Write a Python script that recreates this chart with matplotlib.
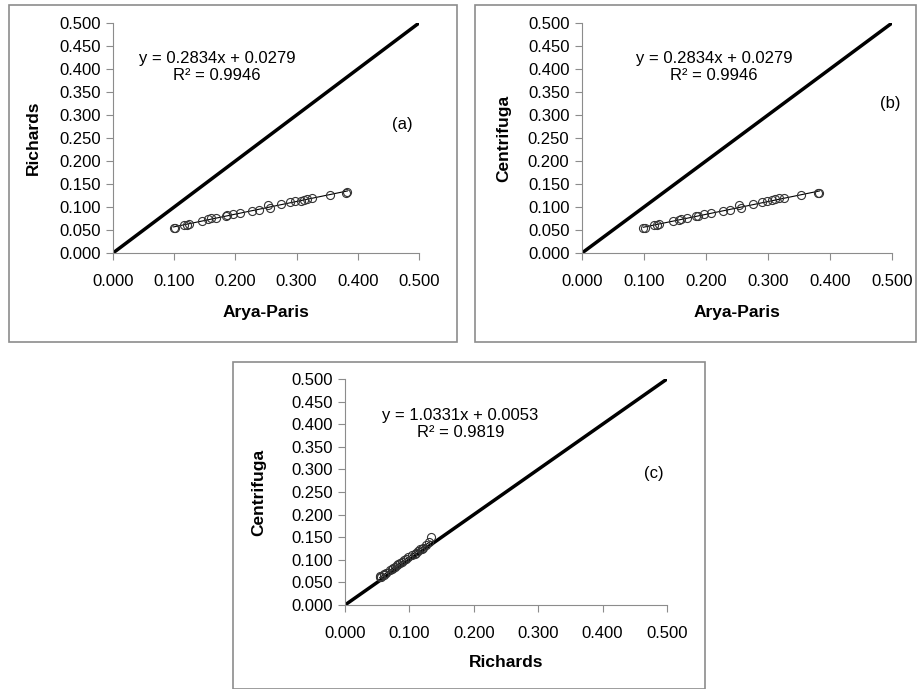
import numpy as np
import matplotlib
matplotlib.use('Agg')
import matplotlib.pyplot as plt
from matplotlib.patches import Rectangle

plt.rcParams['font.family'] = ['Liberation Sans', 'DejaVu Sans']

# Arya-Paris vs Richards (panel a) and vs Centrifuga (panel b)
arya_paris = [0.099, 0.102, 0.116, 0.121, 0.124, 0.146, 0.156, 0.160, 0.169,
              0.184, 0.187, 0.196, 0.208, 0.227, 0.239, 0.254, 0.256, 0.275,
              0.290, 0.298, 0.307, 0.312, 0.317, 0.325, 0.354, 0.381, 0.383]
richards = [0.055, 0.055, 0.061, 0.061, 0.063, 0.070, 0.073, 0.075, 0.076,
            0.081, 0.082, 0.085, 0.087, 0.092, 0.093, 0.105, 0.098, 0.106,
            0.110, 0.112, 0.114, 0.116, 0.118, 0.120, 0.127, 0.131, 0.132]
centrifuga_ap = [0.055, 0.054, 0.060, 0.061, 0.062, 0.069, 0.072, 0.074, 0.076,
                 0.081, 0.081, 0.084, 0.087, 0.091, 0.093, 0.104, 0.098, 0.106,
                 0.110, 0.112, 0.115, 0.117, 0.119, 0.120, 0.126, 0.130, 0.131]

# Richards vs Centrifuga (panel c)
richards_c = [0.054, 0.055, 0.056, 0.060, 0.061, 0.063, 0.070, 0.073, 0.075,
              0.077, 0.081, 0.083, 0.085, 0.088, 0.092, 0.094, 0.098, 0.104,
              0.108, 0.111, 0.114, 0.117, 0.119, 0.121, 0.126, 0.131, 0.133]
centrifuga_c = [0.062, 0.064, 0.063, 0.067, 0.068, 0.070, 0.077, 0.080, 0.081,
                0.084, 0.088, 0.090, 0.093, 0.096, 0.100, 0.101, 0.106, 0.110,
                0.113, 0.116, 0.120, 0.124, 0.125, 0.127, 0.133, 0.140, 0.150]

ticks = [0.0, 0.1, 0.2, 0.3, 0.4, 0.5]
yticks = [0.0, 0.05, 0.1, 0.15, 0.2, 0.25, 0.3, 0.35, 0.4, 0.45, 0.5]

fig = plt.figure(figsize=(9.18, 6.89), dpi=100)
W, H = 918, 689

# panel frames (pixels: left, top, right, bottom)
for l, t, r, b in [(9, 5, 457, 342), (475, 5, 916, 342), (233, 362, 705, 689)]:
    fig.patches.append(Rectangle((l / W, 1 - b / H), (r - l) / W, (b - t) / H,
                                 transform=fig.transFigure, fill=False,
                                 edgecolor='#8c8c8c', linewidth=1.2))


def panel(rect, x, y, xlabel, ylabel, eq, r2, tag, eqpos, tagpos, labx, laby):
    ax = fig.add_axes(rect)
    ax.plot([0, 0.5], [0, 0.5], color='black', linewidth=2.5, zorder=2)
    coef = np.polyfit(x, y, 1)
    xs = np.array([min(x), max(x)])
    ax.plot(xs, np.polyval(coef, xs), color='black', linewidth=0.8, zorder=3)
    ax.plot(x, y, 'o', markerfacecolor='none', markeredgecolor='#333333',
            markersize=5.8, markeredgewidth=0.8, zorder=4)
    ax.set_xlim(0, 0.5)
    ax.set_ylim(0, 0.5)
    ax.set_xticks(ticks)
    ax.set_yticks(yticks)
    ax.set_xticklabels(['%.3f' % v for v in ticks])
    ax.set_yticklabels(['%.3f' % v for v in yticks])
    ax.tick_params(labelsize=12, length=5, color='#8c8c8c', direction='out', pad=4)
    ax.tick_params(axis='x', pad=10)
    for s in ['top', 'right']:
        ax.spines[s].set_visible(False)
    for s in ['left', 'bottom']:
        ax.spines[s].set_color('#8c8c8c')
    ax.set_xlabel(xlabel, fontsize=12.5, fontweight='bold')
    ax.set_ylabel(ylabel, fontsize=12.5, fontweight='bold')
    ax.xaxis.set_label_coords(0.5, labx)
    ax.yaxis.set_label_coords(laby, 0.5)
    ax.text(eqpos[0], eqpos[1], eq + '\n' + r2, ha='center', va='center',
            fontsize=12, linespacing=1.15)
    ax.text(tagpos[0], tagpos[1], tag, ha='center', va='center', fontsize=12)
    return ax


panel([113 / W, 1 - 253 / H, 306 / W, 230 / H], arya_paris, richards,
      'Arya-Paris', 'Richards', 'y = 0.2834x + 0.0279', 'R² = 0.9946', '(a)',
      (0.170, 0.404), (0.472, 0.280), -0.226, -0.235)
panel([582 / W, 1 - 253 / H, 310 / W, 230 / H], arya_paris, centrifuga_ap,
      'Arya-Paris', 'Centrifuga', 'y = 0.2834x + 0.0279', 'R² = 0.9946', '(b)',
      (0.213, 0.404), (0.497, 0.326), -0.226, -0.229)
panel([345 / W, 1 - 605 / H, 322 / W, 226 / H], richards_c, centrifuga_c,
      'Richards', 'Centrifuga', 'y = 1.0331x + 0.0053', 'R² = 0.9819', '(c)',
      (0.179, 0.401), (0.480, 0.292), -0.222, -0.245)

fig.savefig('out.png', dpi=100)
